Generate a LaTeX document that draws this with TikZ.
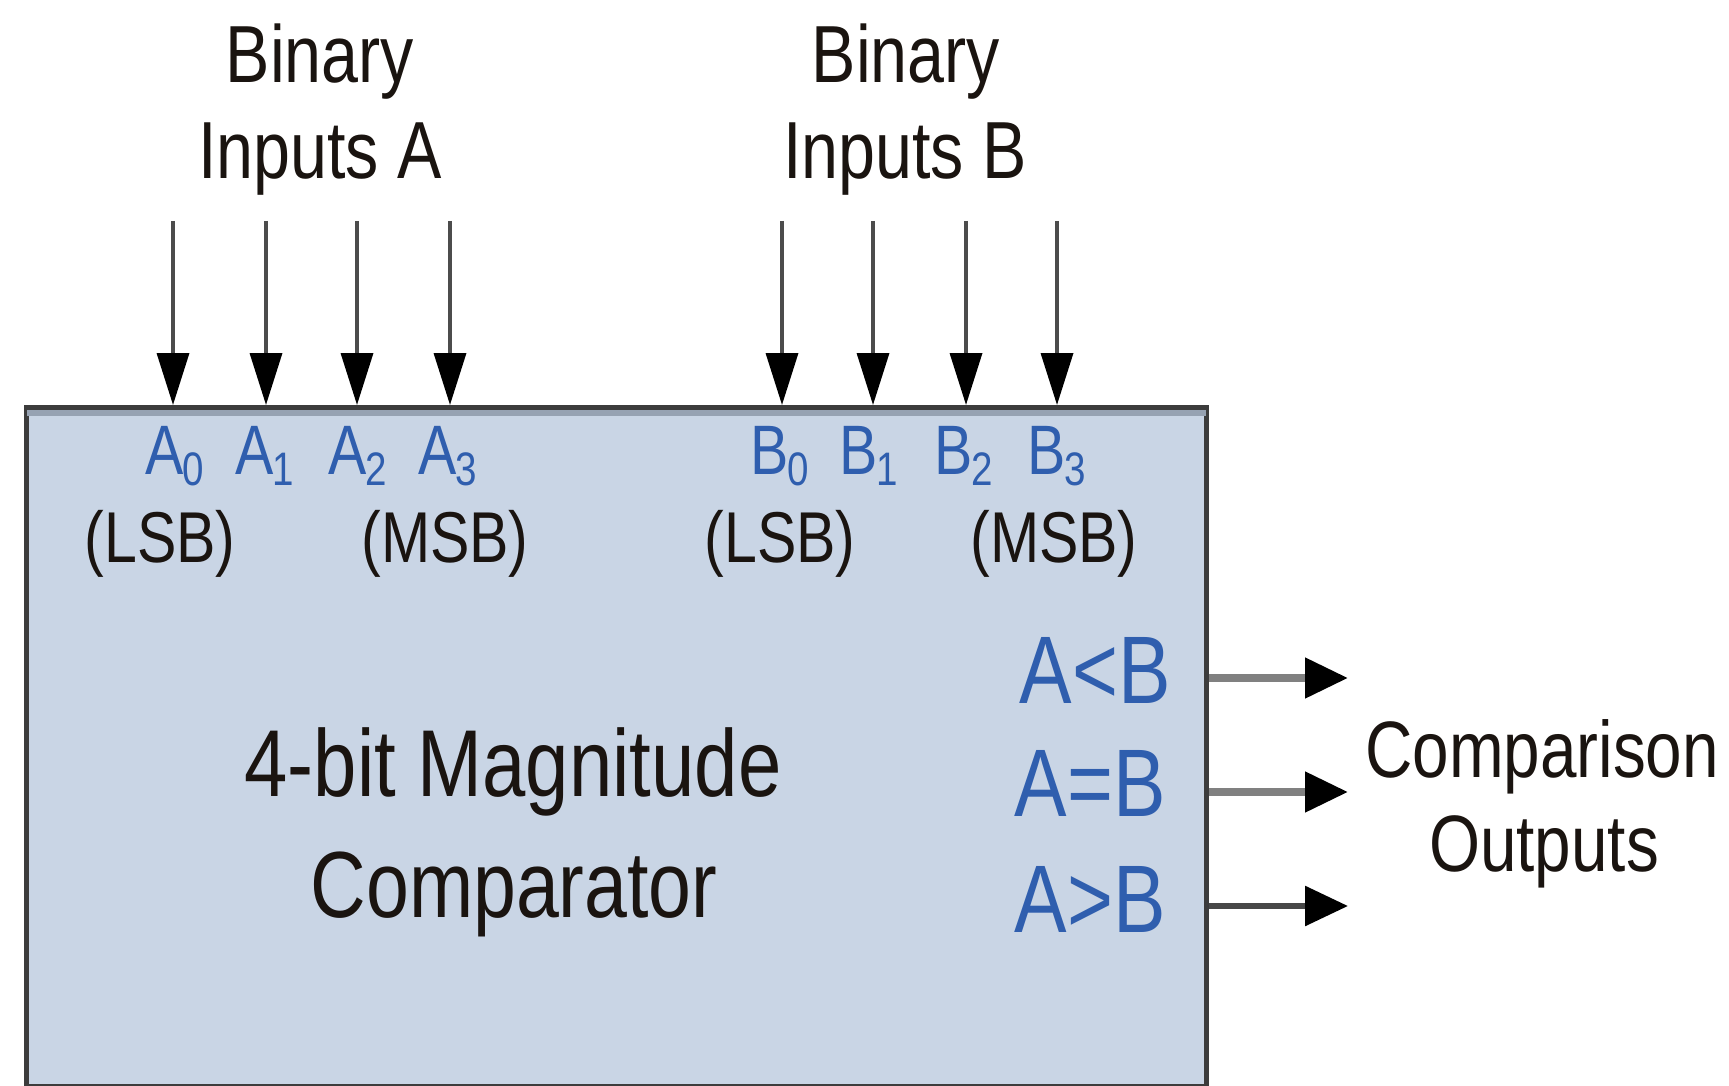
\documentclass[tikz,border=0pt]{standalone}
\usepackage{fontspec}
\setmainfont{Liberation Sans}[FakeStretch=0.82]
\usetikzlibrary{arrows.meta}
\definecolor{boxfill}{HTML}{C9D5E5}
\definecolor{boxedge}{HTML}{3C3C3C}
\definecolor{bandcol}{HTML}{96A2B2}
\definecolor{lblue}{HTML}{2F5EAE}
\definecolor{txtdark}{HTML}{1A1410}
\newcommand{\fsz}[1]{\fontsize{#1}{#1}\selectfont}
\newcommand{\pin}[2]{#1\hspace{-1pt}\raisebox{-11pt}{\fsz{47}#2}}
\tikzset{
  title/.style={inner sep=0, anchor=base, text=txtdark, font=\fsz{81}},
  pinlbl/.style={inner sep=0, anchor=base, text=lblue, font=\fsz{70}},
  sblbl/.style={inner sep=0, anchor=base, text=txtdark, font=\fsz{72}},
  outlbl/.style={inner sep=0, anchor=base east, text=lblue, font=\fsz{96}},
  inarrow/.style={draw=black!70, line width=3.5pt, -{Triangle[length=52pt,width=32pt,color=black]}},
  outarrow/.style={line width=8pt, -{Triangle[length=43pt,width=39pt,color=black]}},
}
\begin{document}
\begin{tikzpicture}[x=1pt,y=-1pt]
\useasboundingbox (0,0) rectangle (1729,1086);
% comparator box
\node[draw=boxedge, fill=boxfill, line width=5pt, inner sep=0, minimum width=1180pt, minimum height=679pt, anchor=north west] (box) at (24,405) {};
\draw[bandcol, line width=6pt] ([shift={(3,8)}]box.north west) -- ([shift={(-3,8)}]box.north east);
% titles
\node[title] (binA) at (320,83) {Binary};
\node[title] (inA) at (320,179) {Inputs A};
\node[title] (binB) at (906,83) {Binary};
\node[title] (inB) at (905,179) {Inputs B};
% input arrows
\foreach \n/\x in {a0/173,a1/266,a2/357,a3/450,b0/782,b1/873,b2/966,b3/1057}{
  \coordinate (\n) at (\x,221);
  \draw[inarrow] (\n) -- (\n |- box.north);
}
% pin labels
\node[pinlbl] (la0) at (175,474) {\pin{A}{0}};
\node[pinlbl] (la1) at (265,474) {\pin{A}{1}};
\node[pinlbl] (la2) at (358,474) {\pin{A}{2}};
\node[pinlbl] (la3) at (448,474) {\pin{A}{3}};
\node[pinlbl] (lb0) at (780,474) {\pin{B}{0}};
\node[pinlbl] (lb1) at (869,474) {\pin{B}{1}};
\node[pinlbl] (lb2) at (964,474) {\pin{B}{2}};
\node[pinlbl] (lb3) at (1057,474) {\pin{B}{3}};
\node[sblbl] (lsbA) at (160,562) {(LSB)};
\node[sblbl] (msbA) at (445,562) {(MSB)};
\node[sblbl] (lsbB) at (780,562) {(LSB)};
\node[sblbl] (msbB) at (1054,562) {(MSB)};
% centre text
\node[title, font=\fsz{95}] (mag) at (513,796) {4-bit Magnitude};
\node[title, font=\fsz{94}] (comp) at (514,917) {Comparator};
% output labels
\node[outlbl] (lt) at (1171,703) {A<B};
\node[outlbl] (eq) at (1166,816) {A=B};
\node[outlbl] (gt) at (1166,932) {A>B};
% output arrows
\coordinate (olt) at (1348,678);
\coordinate (oeq) at (1348,792);
\coordinate (ogt) at (1348,906);
\draw[outarrow, draw=black!50] (box.east |- olt) -- (olt);
\draw[outarrow, draw=black!50] (box.east |- oeq) -- (oeq);
\draw[outarrow, draw=black!72, line width=6pt] (box.east |- ogt) -- (ogt);
% output title
\node[title, font=\fsz{80}] (cmpo) at (1542,777) {Comparison};
\node[title, font=\fsz{80}] (outs) at (1544,871) {Outputs};
\end{tikzpicture}
\end{document}
